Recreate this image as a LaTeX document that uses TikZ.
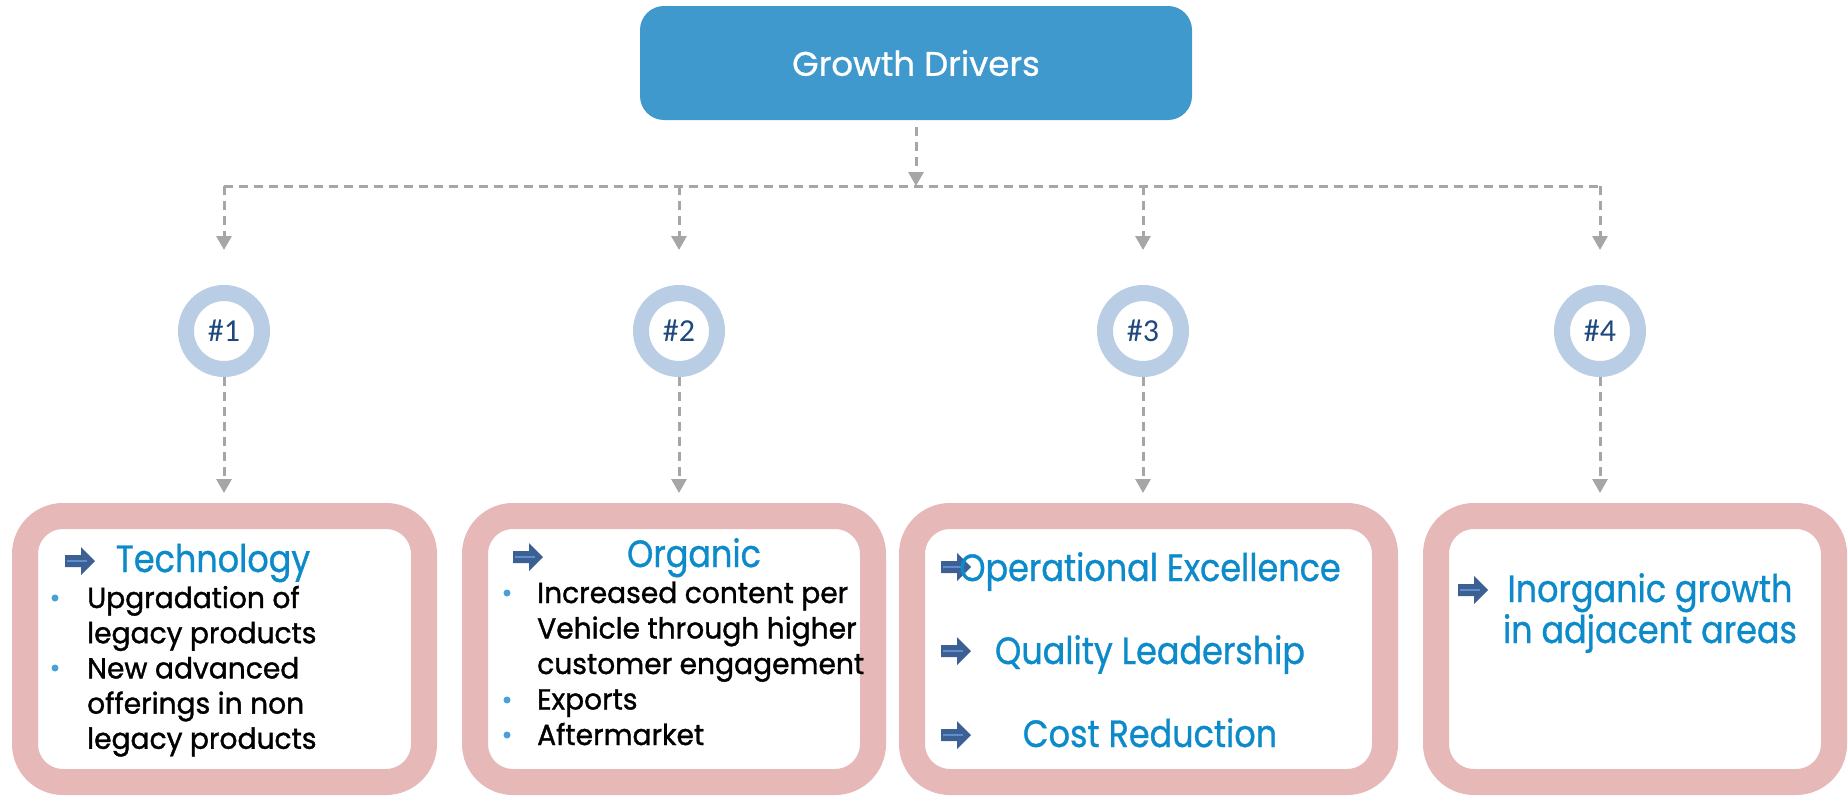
\documentclass[tikz,border=0pt]{standalone}
\usepackage{fontspec}
\setmainfont{Poppins}
\newfontfamily\topfont{Poppins}[FakeBold=0.8]
\newfontfamily\headfont{Poppins}[FakeStretch=0.88, FakeBold=0.8]
\newfontfamily\itemfont{Poppins}[FakeStretch=0.97, FakeBold=1.2]
\newfontfamily\numfont{Carlito}
\usetikzlibrary{arrows.meta}
\definecolor{topblue}{RGB}{64,153,204}
\definecolor{ringblue}{RGB}{185,205,229}
\definecolor{numblue}{RGB}{31,73,125}
\definecolor{pinkc}{RGB}{230,184,183}
\definecolor{headblue}{RGB}{12,138,202}
\definecolor{arrowblue}{RGB}{60,96,148}
\definecolor{arrowline}{RGB}{96,142,204}
\definecolor{bulletblue}{RGB}{74,160,215}
\definecolor{dashgray}{RGB}{166,166,166}
\tikzset{x=1pt, y=-1pt,
  dline/.style={draw=dashgray, line width=3pt, dash pattern=on 9pt off 6pt},
  conn/.style={dline, -{Triangle[width=15pt,length=14pt]}},
  topbox/.style={rounded corners=24pt, fill=topblue, minimum width=552pt,
    minimum height=114pt, text=white, font=\topfont\fontsize{34}{40}\selectfont},
  ring/.style={circle, draw=ringblue, line width=16pt, fill=white,
    minimum size=76pt, inner sep=0pt, text=numblue,
    font=\numfont\fontsize{32}{36}\selectfont},
  card/.style={draw=pinkc, line width=26pt, fill=white, rounded corners=38pt,
    minimum height=266pt},
  head/.style={text=headblue, font=\headfont\fontsize{38}{44}\selectfont, inner sep=0pt, anchor=base},
  item/.style={font=\itemfont\fontsize{29}{35}\selectfont, inner sep=0pt, anchor=base west},
  dot/.style={circle, fill=bulletblue, minimum size=7pt, inner sep=0pt},
  rarrow/.pic={
    \fill[arrowblue] (-15,-6) -- (1,-6) -- (1,-14) -- (15,0) -- (1,14) -- (1,6)
      -- (-15,6) -- cycle;
    \draw[arrowline, line width=1.5pt] (-13,0) -- (7,0);}
}
\begin{document}
\begin{tikzpicture}
  \useasboundingbox (0,0) rectangle (1848,796);
  % top and the four numbers
  \node[topbox] (top) at (916,63) {Growth Drivers};
  \coordinate (split) at (916,186);
  \foreach \x [count=\i] in {224,679,1143,1600}
    \node[ring] (c\i) at (\x,331) {\#\i};
  % the four cards
  \node[card, minimum width=399pt] (b1) at (224.5,649) {};
  \node[card, minimum width=398pt] (b2) at (674,649) {};
  \node[card, minimum width=473pt] (b3) at (1148.5,649) {};
  \node[card, minimum width=398pt] (b4) at (1635,649) {};
  % connectors
  \draw[conn, shorten <=7pt] (top) -- (split);
  \draw[dline] (c1 |- split) -- (c4 |- split);
  \foreach \i in {1,...,4} {
    \draw[conn, shorten >=35pt] (c\i |- split) -- (c\i.north);
    \draw[conn, shorten >=10pt] (c\i.south) -- (c\i.south |- b\i.north);
  }
  % card 1
  \pic at (80,561) {rarrow};
  \node[head] (h1) at (213,572) {Technology};
  \foreach \t [count=\i] in {Upgradation of, legacy products, New advanced,
      offerings in non, legacy products}
    \node[item] (t1-\i) at (87,{608+35.2*(\i-1)}) {\t};
  \node[dot] (d1-1) at (55,598) {};
  \node[dot] (d1-2) at (55,668) {};
  % card 2
  \pic at (528,557) {rarrow};
  \node[head] (h2) at (694,567) {Organic};
  \foreach \t [count=\i] in {Increased content per, Vehicle through higher,
      customer engagement, Exports, Aftermarket}
    \node[item] (t2-\i) at (537,{603+35.5*(\i-1)}) {\t};
  \foreach \y [count=\i] in {593,700,735}
    \node[dot] (d2-\i) at (507,\y) {};
  % card 3
  \foreach \t [count=\i] in {Operational Excellence, Quality Leadership, Cost Reduction} {
    \pic at (956,{567+84*(\i-1)}) {rarrow};
    \node[head] (h3-\i) at (1150,{581+83*(\i-1)}) {\t};
  }
  % card 4
  \pic at (1473,590) {rarrow};
  \node[head] (h4-1) at (1650,602) {Inorganic growth};
  \node[head] (h4-2) at (1650,643) {in adjacent areas};
\end{tikzpicture}
\end{document}
